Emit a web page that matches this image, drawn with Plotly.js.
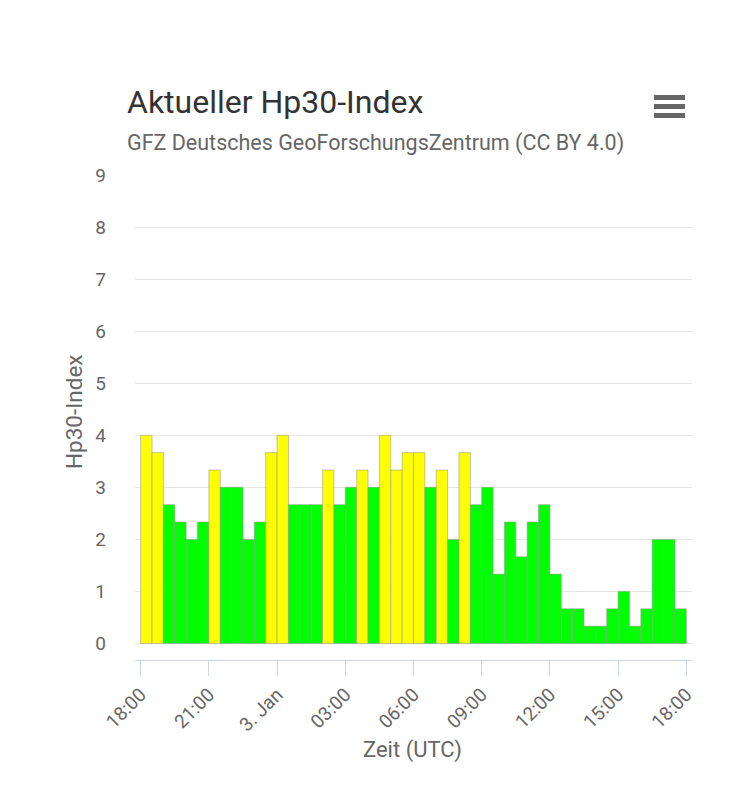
<!DOCTYPE html>
<html>
<head>
<meta charset="utf-8">
<script src="https://cdn.plot.ly/plotly-3.0.1.min.js"></script>
<style>
  html, body { margin: 0; padding: 0; background: #fff; }
  #chart { width: 742px; height: 800px; }
</style>
</head>
<body>
<div id="chart"></div>
<script>
// Hp30-Index, 30-Minuten-Werte ab 2. Jan 18:00 UTC
const startTime = '2025-01-02T18:00:00Z';
const hp30 = [
    4.000, 3.667, 2.667, 2.333, 2.000, 2.333, 3.333, 3.000, 3.000, 2.000,
    2.333, 3.667, 4.000, 2.667, 2.667, 2.667, 3.333, 2.667, 3.000, 3.333,
    3.000, 4.000, 3.333, 3.667, 3.667, 3.000, 3.333, 2.000, 3.667, 2.667,
    3.000, 1.333, 2.333, 1.667, 2.333, 2.667, 1.333, 0.667, 0.667, 0.333,
    0.333, 0.667, 1.000, 0.333, 0.667, 2.000, 2.000, 0.667
];
const tickTimes = [
    '2025-01-02 18:00', '2025-01-02 21:00', '2025-01-03 00:00', '2025-01-03 03:00',
    '2025-01-03 06:00', '2025-01-03 09:00', '2025-01-03 12:00', '2025-01-03 15:00',
    '2025-01-03 18:00'
];
const tickLabels = ['18:00', '21:00', '3. Jan', '03:00', '06:00', '09:00', '12:00', '15:00', '18:00'];
const yTicks = [0, 1, 2, 3, 4, 5, 6, 7, 8, 9];

const HALF_HOUR = 30 * 60 * 1000;

function slotTime(i) {
    const d = new Date(new Date(startTime).getTime() + i * HALF_HOUR);
    return d.toISOString().replace('T', ' ').slice(0, 19);
}

const times = hp30.map((v, i) => slotTime(i));
const colors = hp30.map(v => v > 3 ? '#ffff00' : '#00ff00');

// Plotbereich in Pixeln
const W = 742, H = 800;
const plotL = 135, plotR = 692, plotT = 175, plotB = 660;
const px = x => (x - plotL) / (plotR - plotL);
const py = y => (plotB - y) / (plotB - plotT);

const FONT = 'Roboto, "Open Sans", sans-serif';

const trace = {
    type: 'bar',
    x: times,
    y: hp30,
    width: HALF_HOUR,
    offset: 0,
    marker: {
        color: colors,
        line: { width: 1, color: 'rgba(150,150,150,0.55)' }
    },
    hoverinfo: 'skip'
};

// Menü-Symbol (drei Balken)
const menuBars = [95, 104, 113].map(y => ({
    type: 'rect',
    xref: 'paper', yref: 'paper',
    x0: px(654), x1: px(685),
    y0: py(y + 5), y1: py(y),
    fillcolor: '#666666',
    line: { width: 0 }
}));

const layout = {
    width: W,
    height: H,
    margin: { l: plotL, r: W - plotR, t: plotT, b: H - plotB, pad: 0 },
    paper_bgcolor: '#ffffff',
    plot_bgcolor: '#ffffff',
    showlegend: false,
    bargap: 0,
    font: { family: FONT, color: '#666666' },
    xaxis: {
        type: 'date',
        range: ['2025-01-02 17:45', '2025-01-03 18:15'],
        tickvals: tickTimes,
        ticktext: tickLabels,
        tickangle: -45,
        tickfont: { size: 19, color: '#666666', family: FONT },
        ticks: 'outside',
        ticklen: 15,
        tickcolor: '#ccd6eb',
        tickwidth: 1,
        showline: true,
        linecolor: '#ccd6eb',
        linewidth: 1,
        showgrid: false,
        zeroline: false,
        fixedrange: true
    },
    yaxis: {
        range: [-0.317, 9],
        tickvals: yTicks,
        tickfont: { size: 19, color: '#666666', family: FONT },
        ticklabelstandoff: 28,
        showgrid: true,
        gridcolor: '#e6e6e6',
        gridwidth: 1,
        zeroline: false,
        showline: false,
        ticks: '',
        fixedrange: true
    },
    shapes: menuBars,
    annotations: [
        {
            text: 'Aktueller Hp30-Index',
            xref: 'paper', yref: 'paper',
            x: px(125), y: py(102),
            xanchor: 'left', yanchor: 'middle',
            showarrow: false,
            font: { size: 32, color: '#333333', family: FONT }
        },
        {
            text: 'GFZ Deutsches GeoForschungsZentrum (CC BY 4.0)',
            xref: 'paper', yref: 'paper',
            x: px(125), y: py(143),
            xanchor: 'left', yanchor: 'middle',
            showarrow: false,
            font: { size: 21.5, color: '#666666', family: FONT }
        },
        {
            text: 'Hp30-Index',
            xref: 'paper', yref: 'paper',
            x: px(74), y: py(412),
            xanchor: 'center', yanchor: 'middle',
            textangle: -90,
            showarrow: false,
            font: { size: 22.5, color: '#666666', family: FONT }
        },
        {
            text: 'Zeit (UTC)',
            xref: 'paper', yref: 'paper',
            x: px(412), y: py(750),
            xanchor: 'center', yanchor: 'middle',
            showarrow: false,
            font: { size: 22, color: '#666666', family: FONT }
        }
    ]
};

Plotly.newPlot('chart', [trace], layout, { displayModeBar: false, staticPlot: true });
</script>
</body>
</html>
